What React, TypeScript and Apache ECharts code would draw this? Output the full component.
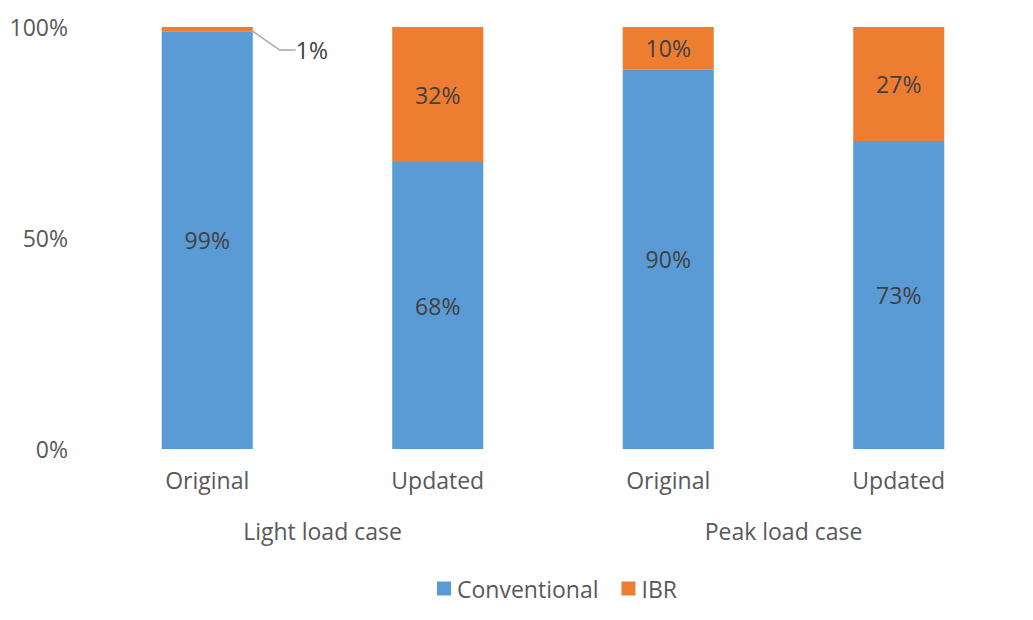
import React, { useEffect, useRef } from "react";
import * as echarts from "echarts";

const categories = ["Original", "Updated", "Original", "Updated"];
const groups = ["Light load case", "Peak load case"];
const conventional = [99, 68, 90, 73];
const ibr = [1, 32, 10, 27];
const yTicks = [0, 50, 100];

const FONT = "'Open Sans', 'Noto Sans', sans-serif";
const TEXT = "#595959";
const FS = 23;

export default function App() {
  const ref = useRef<HTMLDivElement>(null);
  useEffect(() => {
    const chart = echarts.init(ref.current!, null, { renderer: "svg" });
    chart.setOption({
      animation: false,
      textStyle: { fontFamily: FONT },
      grid: { left: 92, right: 19, top: 27, bottom: 171, containLabel: false },
      legend: {
        left: 432,
        top: 572,
        itemWidth: 14,
        itemHeight: 14,
        itemGap: 23,
        icon: "rect",
        textStyle: { fontSize: FS, color: TEXT, fontFamily: FONT, padding: [0, 0, 0, 1] },
        data: ["Conventional", "IBR"],
      },
      xAxis: [
        {
          type: "category",
          data: categories,
          axisLine: { show: false },
          axisTick: { show: false },
          axisLabel: { fontSize: FS, color: TEXT, margin: 19, fontFamily: FONT },
        },
        {
          type: "category",
          data: groups,
          position: "bottom",
          offset: 51,
          axisLine: { show: false },
          axisTick: { show: false },
          axisLabel: { fontSize: FS, color: TEXT, margin: 19, fontFamily: FONT },
        },
      ],
      yAxis: {
        type: "value",
        min: 0,
        max: 100,
        interval: 50,
        splitLine: { show: false },
        axisLine: { show: false },
        axisTick: { show: false },
        axisLabel: {
          fontSize: FS,
          color: TEXT,
          margin: 24,
          fontFamily: FONT,
          formatter: (v: number) => (yTicks.includes(v) ? v + "%" : ""),
        },
      },
      series: [
        {
          name: "Conventional",
          type: "bar",
          stack: "total",
          barWidth: "39.5%",
          itemStyle: { color: "#5B9BD5" },
          label: {
            show: true,
            position: "inside",
            fontSize: FS,
            color: "#404040",
            fontFamily: FONT,
            formatter: (p: any) => p.value + "%",
          },
          data: conventional,
        },
        {
          name: "IBR",
          type: "bar",
          stack: "total",
          barWidth: "39.5%",
          itemStyle: { color: "#ED7D31" },
          label: {
            show: true,
            position: "inside",
            fontSize: FS,
            color: "#404040",
            fontFamily: FONT,
            formatter: (p: any) => p.value + "%",
          },
          data: ibr.map((v, i) =>
            i === 0
              ? {
                  value: v,
                  label: {
                    position: [126, 23],
                    align: "left",
                    verticalAlign: "middle",
                    padding: [0, 0, 0, 8],
                  },
                  labelLine: {
                    show: true,
                    length2: 16,
                    smooth: false,
                    lineStyle: { color: "#A6A6A6", width: 1.5 },
                  },
                }
              : v
          ),
        },
      ],
    });
    return () => chart.dispose();
  }, []);
  return <div ref={ref} style={{ width: 1033, height: 620, margin: -8 }} />;
}
